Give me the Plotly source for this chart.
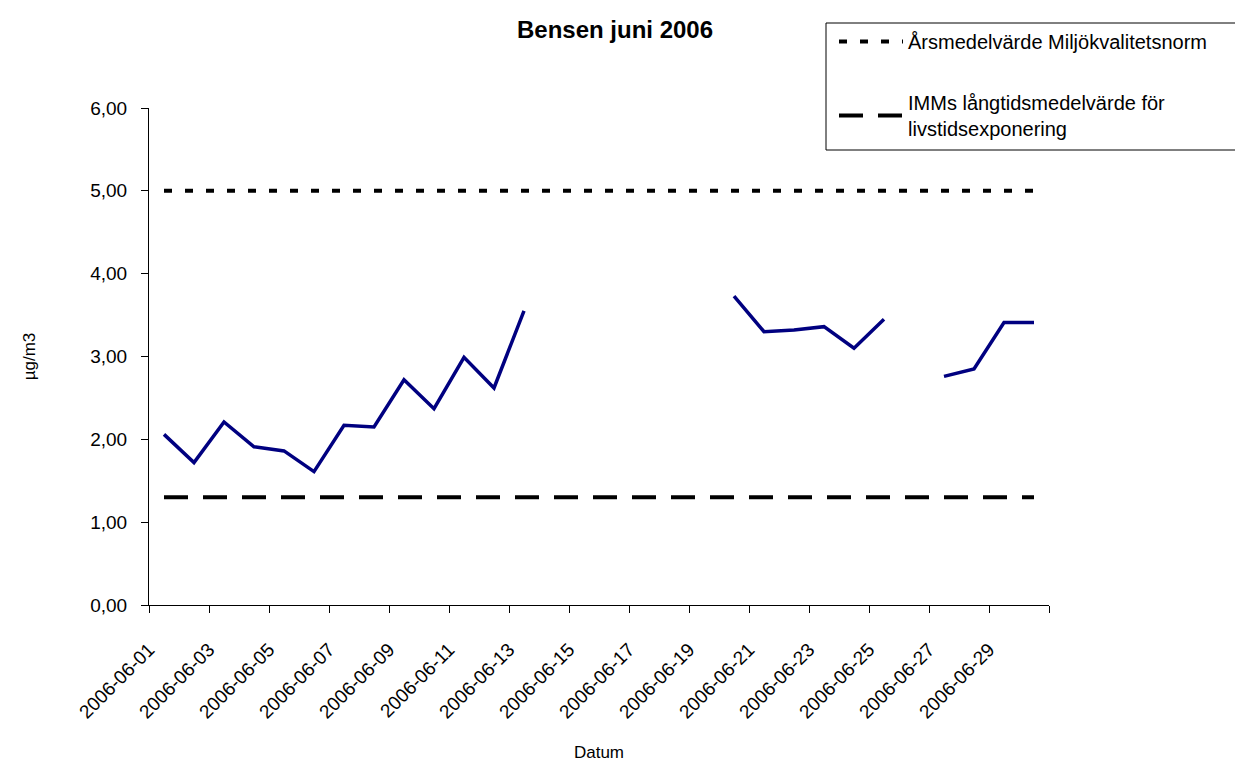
import pandas as pd
import plotly.graph_objects as go

# dagliga mätvärden, bensen juni 2006 (µg/m3), None = saknas
dates = [f"2006-06-{d:02d}" for d in range(1, 31)]
bensen = [2.06, 1.72, 2.21, 1.91, 1.86, 1.61, 2.17, 2.15, 2.72, 2.37,
          2.99, 2.62, 3.55, None, None, None, None, None, None, 3.73,
          3.30, 3.32, 3.36, 3.10, 3.45, None, 2.76, 2.85, 3.41, 3.41]

mkn_name = "Årsmedelvärde Miljökvalitetsnorm"
mkn_value = 5.0
imm_name = "IMMs långtidsmedelvärde för<br>livstidsexponering"
imm_value = 1.3

y_ticks = [0, 1, 2, 3, 4, 5, 6]

FONT = "Arial, Liberation Sans, sans-serif"

# sidan har 8px marginal i body, kompensera
L, T = 141, 100
d = pd.to_datetime(dates)
half = pd.Timedelta(hours=12)
tick_pos = list(d[::2] - half) + [d[-1] + half]
tick_txt = dates[::2] + [""]

fig = go.Figure()
fig.add_trace(go.Scatter(x=dates, y=bensen, mode="lines", showlegend=False,
                         line=dict(color="#000080", width=3.5), connectgaps=False))
fig.add_trace(go.Scatter(x=[dates[0], dates[-1]], y=[mkn_value, mkn_value], mode="lines",
                         name=mkn_name, legendgroup="a",
                         line=dict(color="black", width=4, dash="8px,13px")))
fig.add_trace(go.Scatter(x=[dates[0], dates[-1]], y=[imm_value, imm_value], mode="lines",
                         name=imm_name, legendgroup="b",
                         line=dict(color="black", width=4, dash="24px,15px")))

fig.update_layout(
    width=1243, height=764,
    margin=dict(l=L, r=1243 - L - 900, t=T, b=764 - T - 497, autoexpand=False),
    paper_bgcolor="white", plot_bgcolor="white",
    separators=",.",
    font=dict(family=FONT, size=17, color="black"),
    title=dict(text="<b>Bensen juni 2006</b>", x=607 / 1243, xanchor="center",
               y=1 - 22 / 764, yanchor="middle", font=dict(size=24)),
    showlegend=True,
    legend=dict(x=(834 - 149) / 900, y=(605 - 22) / 497, xanchor="left", yanchor="top",
                bgcolor="rgba(0,0,0,0)", borderwidth=0, font=dict(size=20),
                tracegroupgap=32, itemwidth=64),
    shapes=[dict(type="rect", xref="paper", yref="paper",
                 x0=(826 - 149) / 900, x1=(1240 - 149) / 900,
                 y0=(605 - 150) / 497, y1=(605 - 23) / 497,
                 line=dict(color="black", width=1), fillcolor="rgba(0,0,0,0)")],
)

fig.update_xaxes(
    type="date", range=[d[0] - half, d[-1] + half], automargin=False,
    tickmode="array", tickvals=tick_pos, ticktext=tick_txt, tickangle=-45,
    ticks="outside", ticklen=7, tickcolor="black", tickfont=dict(size=19),
    showline=True, linecolor="black", linewidth=1, showgrid=False, zeroline=False,
    ticklabelstandoff=18,
    title=dict(text="Datum", standoff=24, font=dict(size=17)),
)
fig.update_yaxes(
    range=[0, 6], tickmode="array", tickvals=y_ticks, tickformat=".2f", automargin=False,
    ticks="outside", ticklen=7, tickcolor="black", tickfont=dict(size=19),
    showline=True, linecolor="black", linewidth=1, showgrid=False, zeroline=False,
    ticklabelstandoff=10,
    title=dict(text="µg/m3", standoff=50, font=dict(size=17)),
)

fig.write_html("out.html")
